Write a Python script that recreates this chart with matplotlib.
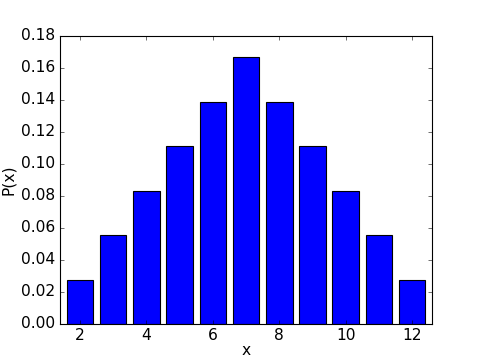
import matplotlib
matplotlib.use("Agg")
import matplotlib.pyplot as plt

plt.style.use("classic")
plt.rcParams["font.size"] = 14

# sum of two dice
sums = [2, 3, 4, 5, 6, 7, 8, 9, 10, 11, 12]
probs = [1/36, 2/36, 3/36, 4/36, 5/36, 6/36, 5/36, 4/36, 3/36, 2/36, 1/36]

fig = plt.figure(figsize=(6, 4.5), dpi=80)
ax = fig.add_subplot(111)
ax.bar(sums, probs, width=0.8, align="center", color="b", edgecolor="k")
ax.set_xlim(1.4, 12.6)
ax.set_ylim(0, 0.18)
ax.set_xticks([2, 4, 6, 8, 10, 12])
ax.set_xlabel("x", labelpad=0)
ax.set_ylabel("P(x)")

fig.savefig("out.png", dpi=80)
